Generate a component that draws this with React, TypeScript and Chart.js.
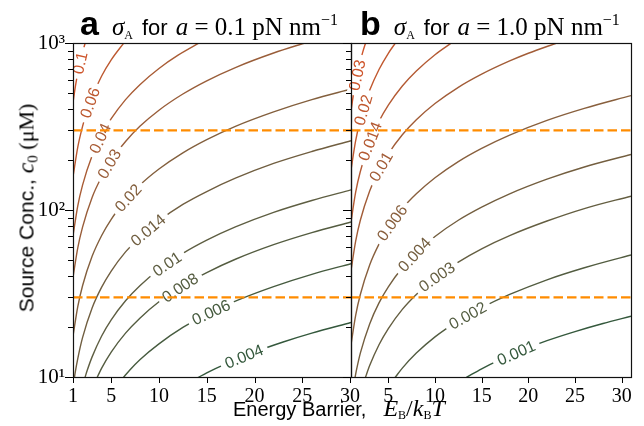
import React, { useEffect, useRef } from "react";
import { Chart, registerables } from "chart.js";
Chart.register(...registerables);

type P = [number, number]; // [E_B/kBT, c0 (µM)]

// ---------- Panel a : sigma_A for a = 0.1 pN/nm ----------
const A_LEVELS = [0.1, 0.06, 0.04, 0.03, 0.02, 0.014, 0.01, 0.008, 0.006, 0.004];
const A_LEVEL_TEXT = ["0.1", "0.06", "0.04", "0.03", "0.02", "0.014", "0.01", "0.008", "0.006", "0.004"];
const A_0100: P[] = [[1, 440], [1.25, 550], [1.5, 660], [1.75, 770], [2, 880], [2.3, 1010]];
const A_0060: P[] = [[1, 158], [1.5, 238], [2, 317], [2.5, 396], [3, 475], [4, 634], [5, 792], [6.4, 1014]];
const A_0040: P[] = [[1, 70], [1.5, 106], [2, 141], [3, 211], [4, 282], [5, 352], [6.5, 458], [8, 563], [10, 704], [12, 845], [14.3, 1007]];
const A_0030: P[] = [[1, 39.6], [1.5, 59.4], [2, 79], [3, 119], [4, 158], [5, 198], [6.5, 257], [8, 317], [10, 396], [12.5, 495], [15, 594], [18, 713], [22, 871], [25.5, 1010]];
const A_0020: P[] = [[1, 17.6], [1.5, 26.4], [2, 35.2], [3, 52.8], [4, 70.4], [5, 88], [6.5, 114], [8, 141], [10, 176], [12.5, 220], [15, 264], [18, 317], [22, 387], [26, 458], [30.1, 530]];
const A_0014: P[] = [[1.1, 9.5], [1.25, 10.8], [1.5, 12.9], [2, 17.2], [3, 25.9], [4, 34.5], [5, 43.1], [6.5, 56.1], [8, 69], [10, 86.2], [12.5, 108], [15, 129], [18, 155], [22, 190], [26, 224], [30.1, 260]];
const A_0010: P[] = [[2.2, 9.7], [2.5, 11], [3, 13.2], [4, 17.6], [5, 22], [6.5, 28.6], [8, 35.2], [10, 44], [12.5, 55], [15, 66], [18, 79.2], [22, 96.8], [26, 114], [30.1, 132]];
const A_0008: P[] = [[3.5, 9.86], [4, 11.3], [5, 14.1], [6.5, 18.3], [8, 22.5], [10, 28.2], [12.5, 35.2], [15, 42.2], [18, 50.7], [22, 62], [26, 73.2], [30.1, 84.8]];
const A_0006: P[] = [[6.2, 9.82], [7, 11.1], [8, 12.7], [10, 15.8], [12.5, 19.8], [15, 23.8], [18, 28.5], [22, 34.8], [26, 41.2], [30.1, 47.7]];
const A_0004: P[] = [[14, 9.86], [15, 10.6], [17, 12], [20, 14.1], [23, 16.2], [26, 18.3], [30.1, 21.2]];
const A_LABEL_X = [1.73, 2.78, 3.83, 4.8, 6.76, 8.85, 10.84, 12.2, 15.45, 18.9];
const A_X_TICKS = [1, 5, 10, 15, 20, 25, 30];

// ---------- Panel b : sigma_A for a = 1.0 pN/nm ----------
const B_LEVELS = [0.03, 0.02, 0.014, 0.01, 0.006, 0.004, 0.003, 0.002, 0.001];
const B_LEVEL_TEXT = ["0.03", "0.02", "0.014", "0.01", "0.006", "0.004", "0.003", "0.002", "0.001"];
const B_0030: P[] = [[1, 391], [1.25, 488], [1.5, 586], [1.75, 684], [2, 781], [2.25, 879], [2.6, 1016]];
const B_0020: P[] = [[1, 174], [1.5, 260], [2, 347], [2.5, 434], [3, 521], [4, 694], [5, 868], [5.8, 1007]];
const B_0014: P[] = [[1, 85], [1.5, 128], [2, 170], [3, 255], [4, 340], [5, 425], [6.5, 553], [8, 680], [10, 851], [11.8, 1004]];
const B_0010: P[] = [[1, 43.4], [1.5, 65.1], [2, 86.8], [3, 130], [4, 174], [5, 217], [6.5, 282], [8, 347], [10, 434], [12.5, 543], [15, 651], [18, 781], [20, 868], [23.1, 1003]];
const B_0006: P[] = [[1, 15.6], [1.5, 23.4], [2, 31.2], [3, 46.9], [4, 62.5], [5, 78.1], [6.5, 102], [8, 125], [10, 156], [12.5, 195], [15, 234], [18, 281], [22, 344], [26, 406], [31, 484]];
const B_0004: P[] = [[1.4, 9.72], [1.6, 11.1], [2, 13.9], [3, 20.8], [4, 27.8], [5, 34.7], [6.5, 45.1], [8, 55.6], [10, 69.4], [12.5, 86.8], [15, 104], [18, 125], [22, 153], [26, 181], [31, 215]];
const B_0003: P[] = [[2.5, 9.77], [3, 11.7], [4, 15.6], [5, 19.5], [6.5, 25.4], [8, 31.2], [10, 39.1], [12.5, 48.8], [15, 58.6], [18, 70.3], [22, 85.9], [26, 102], [31, 121]];
const B_0002: P[] = [[5.7, 9.9], [6.5, 11.3], [8, 13.9], [10, 17.4], [12.5, 21.7], [15, 26], [18, 31.2], [22, 38.2], [26, 45.1], [31, 53.8]];
const B_0001: P[] = [[13.3, 9.9], [15, 11.2], [17, 12.7], [19.5, 14.6], [22, 16.5], [25, 18.7], [28, 20.9], [31, 23.1]];
const B_LABEL_X = [1.65, 2.3, 3.04, 4.2, 5.4, 7.8, 10.2, 13.5, 18.7];
const B_X_TICKS = [5, 10, 15, 20, 25, 30];

// ---------- shared ----------
const DASH_LEVELS = [300, 30];
const Y_TICKS = [10, 20, 30, 40, 50, 60, 70, 80, 90, 100, 200, 300, 400, 500, 600, 700, 800, 900, 1000];
const Y_MAJOR: Record<number, string> = { 10: "10¹", 100: "10²", 1000: "10³" };

const SERIF = '"Liberation Serif", "DejaVu Serif", serif';
const SANS = '"Liberation Sans", "DejaVu Sans", sans-serif';

const CMAP: [number, number[]][] = [
  [0, [52, 88, 60]],
  [0.3, [96, 94, 66]],
  [0.55, [140, 95, 60]],
  [0.8, [184, 90, 50]],
  [1, [206, 84, 42]],
];
function colorAt(t: number) {
  for (let i = 0; i < CMAP.length - 1; i++) {
    const [t0, c0] = CMAP[i];
    const [t1, c1] = CMAP[i + 1];
    if (t <= t1 || i === CMAP.length - 2) {
      const f = Math.max(0, Math.min(1, (t - t0) / (t1 - t0)));
      const c = c0.map((v, k) => Math.round(v + (c1[k] - v) * f));
      return `rgb(${c[0]},${c[1]},${c[2]})`;
    }
  }
  return "#000";
}

interface Panel {
  levels: number[];
  texts: string[];
  curves: P[][];
  labelX: number[];
  xMin: number;
  xMax: number;
  xTicks: number[];
  yWidth: number;
  padRight: number;
  showY: boolean;
}

const PANEL_A: Panel = {
  levels: A_LEVELS, texts: A_LEVEL_TEXT,
  curves: [A_0100, A_0060, A_0040, A_0030, A_0020, A_0014, A_0010, A_0008, A_0006, A_0004],
  labelX: A_LABEL_X, xMin: 1, xMax: 30.1, xTicks: A_X_TICKS, yWidth: 73, padRight: 19, showY: true,
};
const PANEL_B: Panel = {
  levels: B_LEVELS, texts: B_LEVEL_TEXT,
  curves: [B_0030, B_0020, B_0014, B_0010, B_0006, B_0004, B_0003, B_0002, B_0001],
  labelX: B_LABEL_X, xMin: 1, xMax: 31, xTicks: B_X_TICKS, yWidth: 11, padRight: 13, showY: false,
};

function makeChart(canvas: HTMLCanvasElement, panel: Panel) {
  const logs = panel.levels.map((v) => Math.log10(v));
  const lo = Math.min(...logs);
  const hi = Math.max(...logs);
  const colors = logs.map((l) => colorAt((l - lo) / (hi - lo)));

  const dashSets = DASH_LEVELS.map((v) => ({
    data: [{ x: panel.xMin, y: v }, { x: panel.xMax, y: v }],
    borderColor: "#ff8c00",
    borderWidth: 2.2,
    borderDash: [9.5, 4],
    pointRadius: 0,
    fill: false,
  }));
  const curveSets = panel.curves.map((pts, i) => ({
    data: pts.map(([x, y]) => ({ x, y })),
    borderColor: colors[i],
    borderWidth: 1.4,
    pointRadius: 0,
    fill: false,
    cubicInterpolationMode: "monotone" as const,
  }));

  const labelPlugin = {
    id: "contourLabels",
    afterDatasetDraw(chart: any, args: any) {
      const idx = args.index - DASH_LEVELS.length;
      if (idx < 0) return;
      const pts = panel.curves[idx];
      const xs = chart.scales.x;
      const ys = chart.scales.y;
      const logAt = (x: number) => {
        let i = 0;
        while (i < pts.length - 2 && x > pts[i + 1][0]) i++;
        const [x0, c0] = pts[i];
        const [x1, c1] = pts[i + 1];
        const f = (x - x0) / (x1 - x0);
        return Math.log10(c0) + (Math.log10(c1) - Math.log10(c0)) * f;
      };
      const pix = (x: number) => ({ x: xs.getPixelForValue(x), y: ys.getPixelForValue(Math.pow(10, logAt(x))) });
      const lx = panel.labelX[idx];
      const p = pix(lx);
      const a = pix(lx - 0.15);
      const b = pix(lx + 0.15);
      const ang = Math.atan2(b.y - a.y, b.x - a.x);
      const ctx = chart.ctx;
      ctx.save();
      ctx.font = `16px ${SANS}`;
      const w = ctx.measureText(panel.texts[idx]).width;
      ctx.translate(p.x, p.y);
      ctx.rotate(ang);
      ctx.fillStyle = "#fff";
      ctx.fillRect(-w / 2 - 5, -6.5, w + 10, 13);
      ctx.fillStyle = colors[idx];
      ctx.textAlign = "center";
      ctx.textBaseline = "middle";
      ctx.fillText(panel.texts[idx], 0, 1);
      ctx.restore();
    },
  };

  const decorPlugin = {
    id: "axesDecor",
    afterDraw(chart: any) {
      const { ctx, chartArea: ca } = chart;
      const xs = chart.scales.x;
      const ys = chart.scales.y;
      ctx.save();
      ctx.strokeStyle = "#000";
      ctx.lineWidth = 1;
      ctx.beginPath();
      Y_TICKS.forEach((v) => {
        const py = Math.round(ys.getPixelForValue(v)) + 0.5;
        const len = Y_MAJOR[v] ? 8 : 5;
        ctx.moveTo(ca.left - len, py);
        ctx.lineTo(ca.left, py);
      });
      panel.xTicks.forEach((v) => {
        const px = Math.round(xs.getPixelForValue(v)) + 0.5;
        ctx.moveTo(px, ca.bottom);
        ctx.lineTo(px, ca.bottom + 6);
      });
      ctx.stroke();
      ctx.lineWidth = 1.2;
      ctx.strokeStyle = "#111";
      ctx.strokeRect(Math.round(ca.left) + 0.5, Math.round(ca.top) + 0.5, Math.round(ca.right - ca.left), Math.round(ca.bottom - ca.top));
      ctx.restore();
    },
  };

  return new Chart(canvas, {
    type: "line",
    data: { datasets: [...dashSets, ...curveSets] as any },
    options: {
      responsive: false,
      maintainAspectRatio: false,
      animation: false,
      events: [],
      layout: { padding: { top: 43, right: panel.padRight, bottom: 0, left: 0 } },
      plugins: { legend: { display: false }, tooltip: { enabled: false } },
      scales: {
        x: {
          type: "linear",
          min: panel.xMin,
          max: panel.xMax,
          afterBuildTicks: (s: any) => {
            s.ticks = panel.xTicks.map((v) => ({ value: v }));
          },
          afterFit: (s: any) => {
            s.height = 49;
            s.paddingLeft = 0;
            s.paddingRight = 0;
          },
          ticks: {
            autoSkip: false,
            maxRotation: 0,
            padding: 8,
            color: "#000",
            font: { family: SERIF, size: 20 },
            callback: (v: any) => String(v),
          },
          grid: { display: false, drawTicks: false },
          border: { display: false },
        },
        y: {
          type: "logarithmic",
          min: 10,
          max: 1000,
          afterBuildTicks: (s: any) => {
            s.ticks = Y_TICKS.map((v) => ({ value: v, major: !!Y_MAJOR[v] }));
          },
          afterFit: (s: any) => {
            s.width = panel.yWidth;
            s.paddingTop = 0;
            s.paddingBottom = 0;
          },
          ticks: {
            display: panel.showY,
            autoSkip: false,
            padding: 8,
            color: "#000",
            font: { family: SERIF, size: 21 },
            callback: (v: any) => Y_MAJOR[Number(v)] ?? "",
          },
          grid: { display: false, drawTicks: false },
          border: { display: false },
        },
      },
    } as any,
    plugins: [labelPlugin, decorPlugin],
  });
}

function Title({ left, letter, value }: { left: number; letter: string; value: string }) {
  return (
    <div style={{ position: "absolute", left, top: 3, whiteSpace: "nowrap", color: "#000", lineHeight: "40px" }}>
      <span style={{ fontFamily: SANS, fontWeight: "bold", fontSize: 34 }}>{letter}</span>
      <span style={{ fontFamily: SERIF, fontStyle: "italic", fontSize: 25, marginLeft: 13 }}>σ</span>
      <span style={{ fontFamily: SERIF, fontSize: 12, position: "relative", top: 4 }}>A</span>
      <span style={{ fontFamily: SANS, fontSize: 22, marginLeft: 9 }}>for</span>
      <span style={{ fontFamily: SERIF, fontStyle: "italic", fontSize: 25, marginLeft: 8 }}>a</span>
      <span style={{ fontFamily: SERIF, fontSize: 25 }}> = {value} pN nm</span>
      <span style={{ fontFamily: SERIF, fontSize: 16, position: "relative", top: -10 }}>−1</span>
    </div>
  );
}

export default function App() {
  const refA = useRef<HTMLCanvasElement>(null);
  const refB = useRef<HTMLCanvasElement>(null);
  useEffect(() => {
    const ca = makeChart(refA.current!, PANEL_A);
    const cb = makeChart(refB.current!, PANEL_B);
    return () => {
      ca.destroy();
      cb.destroy();
    };
  }, []);
  return (
    <div style={{ position: "fixed", left: 0, top: 0, width: 644, height: 426, background: "#fff", overflow: "hidden" }}>
      <canvas ref={refA} width={370} height={426} style={{ position: "absolute", left: 0, top: 0, width: 370, height: 426 }} />
      <canvas ref={refB} width={304} height={426} style={{ position: "absolute", left: 340, top: 0, width: 304, height: 426 }} />
      <Title left={80} letter="a" value="0.1" />
      <Title left={360} letter="b" value="1.0" />
      <div
        style={{
          position: "absolute",
          left: 26,
          top: 208,
          transform: "translate(-50%, -50%) rotate(-90deg)",
          whiteSpace: "nowrap",
          fontSize: 21,
          color: "#000",
        }}
      >
        <span style={{ fontFamily: SANS }}>Source Conc., </span>
        <span style={{ fontFamily: SERIF, fontStyle: "italic", fontSize: 24 }}>c</span>
        <span style={{ fontFamily: SERIF, fontSize: 15, position: "relative", top: 4 }}>0</span>
        <span style={{ fontFamily: SERIF, fontSize: 22 }}> (μM)</span>
      </div>
      <div style={{ position: "absolute", left: 233, top: 396, whiteSpace: "nowrap", fontSize: 20, color: "#000", lineHeight: "24px" }}>
        <span style={{ fontFamily: SANS }}>Energy Barrier,</span>
        <span style={{ fontFamily: SERIF, fontStyle: "italic", fontSize: 24, marginLeft: 17 }}>E</span>
        <span style={{ fontFamily: SERIF, fontSize: 12, position: "relative", top: 3 }}>B</span>
        <span style={{ fontFamily: SERIF, fontSize: 24 }}>/</span>
        <span style={{ fontFamily: SERIF, fontStyle: "italic", fontSize: 24 }}>k</span>
        <span style={{ fontFamily: SERIF, fontSize: 12, position: "relative", top: 3 }}>B</span>
        <span style={{ fontFamily: SERIF, fontStyle: "italic", fontSize: 24 }}>T</span>
      </div>
    </div>
  );
}
